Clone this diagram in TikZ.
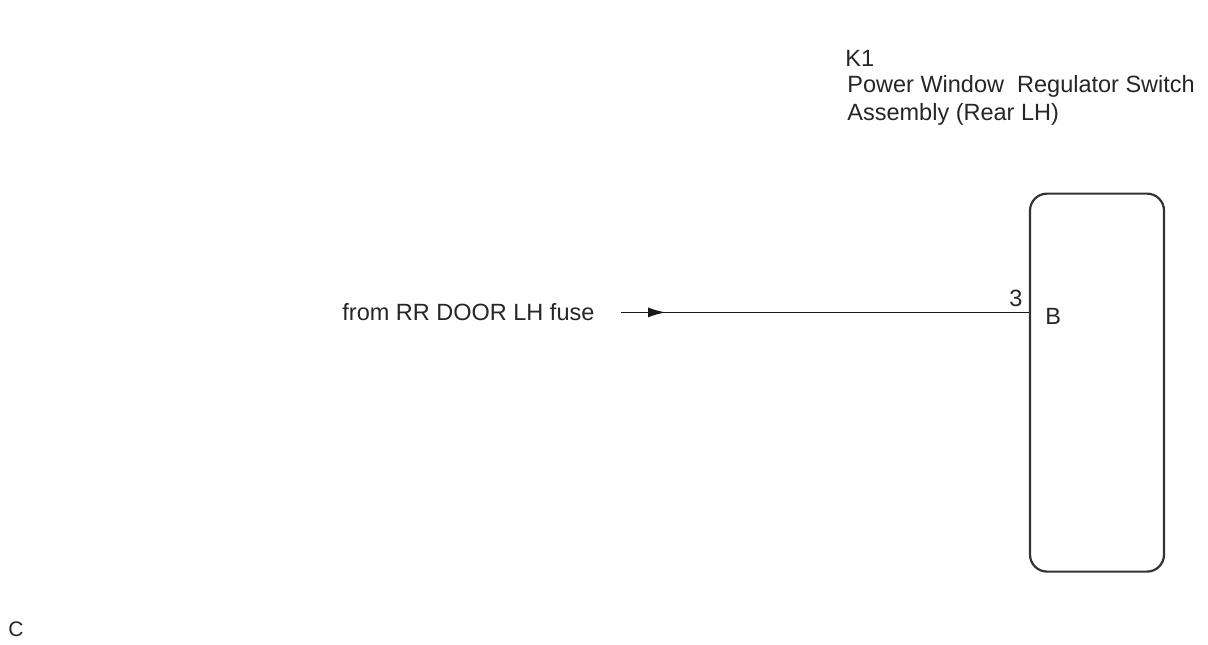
\documentclass[tikz,border=0pt]{standalone}
\usepackage{fontspec}
\setmainfont{Liberation Sans}
\usetikzlibrary{positioning,arrows.meta}
\tikzset{
  lbl/.style={inner sep=0pt,anchor=base west,font=\fontsize{11.75pt}{14pt}\selectfont,text=black!85},
  wire/.style={line width=0.9pt,black!90}
}
\begin{document}
\begin{tikzpicture}[x=1pt,y=-1pt]
\useasboundingbox (0,0) rectangle (604,322);

\node[draw=black!80,line width=1.1pt,rounded corners=8.5pt,minimum width=67pt,minimum height=189pt,inner sep=0pt] (sw) at (548.5,191.3) {};
\coordinate (pin) at (sw.west |- 0,156.2);
\coordinate (start) at (310.5,156.2);

\draw[wire] (start) -- (pin);
\draw[wire,-{Latex[length=9pt,width=5pt]}] (start) -- (333,156.2);

\node[lbl] (from) at (171,160) {from RR DOOR LH fuse};
\node[lbl] (three) at (504.5,153) {3};
\node[lbl] (b) at (522.5,162) {B};
\node[lbl] (k1) at (422.5,33) {K1};
\node[lbl] (name1) at (423.5,46) {Power Window\ \ Regulator Switch};
\node[lbl] (name2) at (423.5,60) {Assembly (Rear LH)};
\node[lbl,font=\fontsize{10.5pt}{14pt}\selectfont] (c) at (4,318) {C};

\end{tikzpicture}
\end{document}
